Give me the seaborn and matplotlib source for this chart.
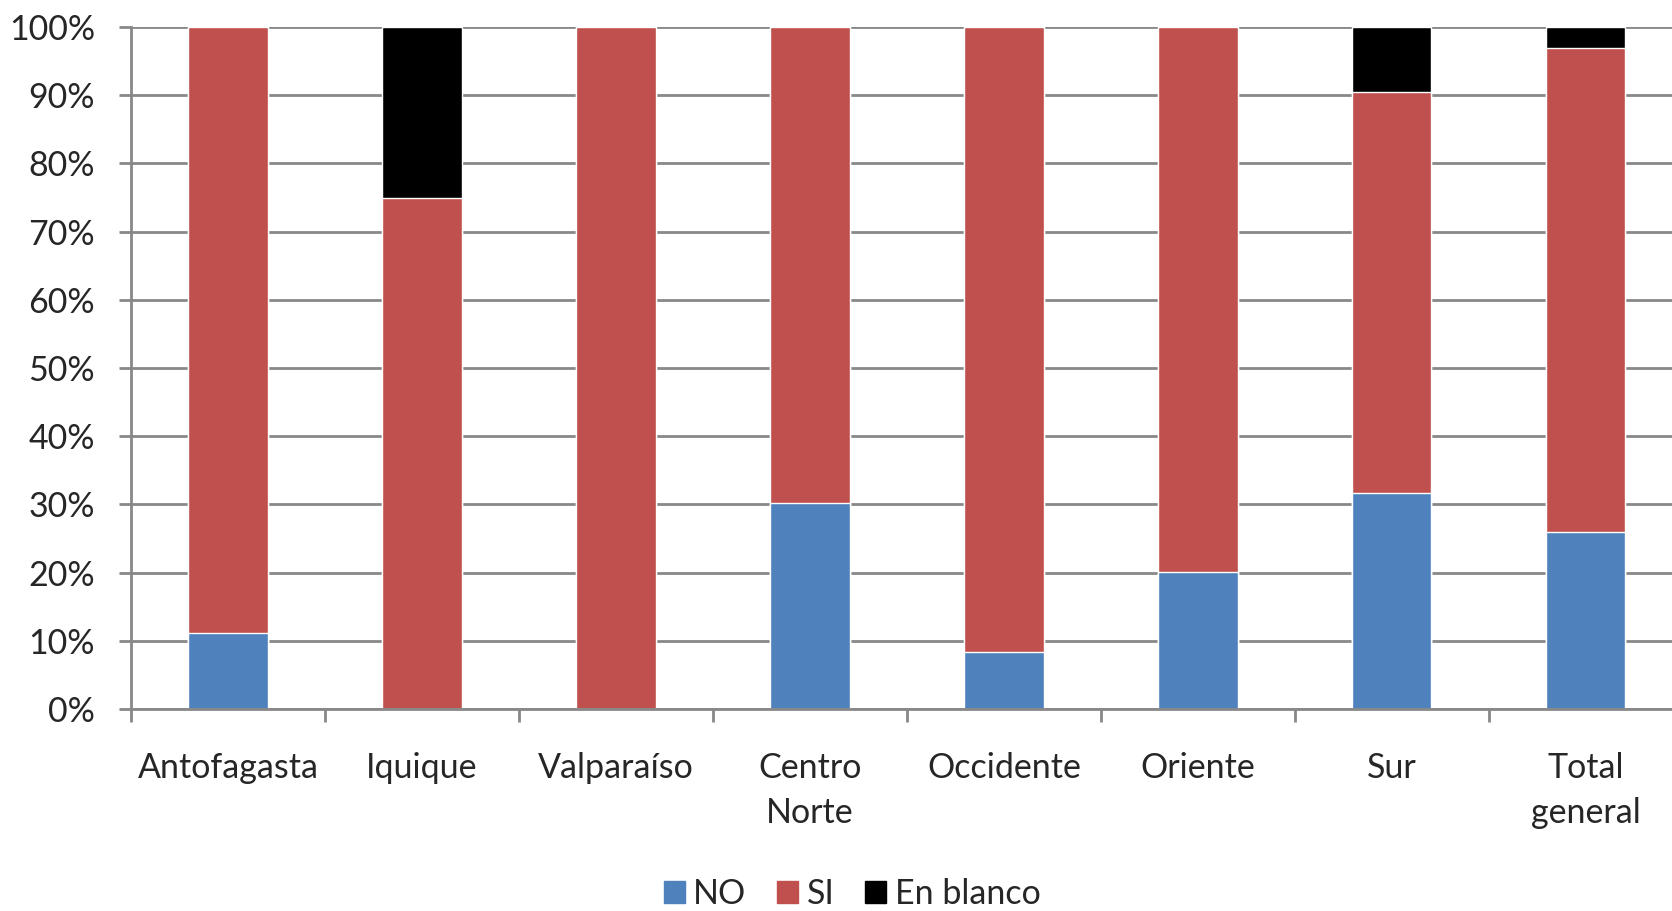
import numpy as np
import pandas as pd
import seaborn as sns
import matplotlib.pyplot as plt
from matplotlib.patches import Patch
from matplotlib.ticker import PercentFormatter

sns.set_style("white")
plt.rcParams['font.family'] = ['Lato', 'DejaVu Sans']

# Datos
regiones = ['Antofagasta', 'Iquique', 'Valparaíso', 'Centro\nNorte', 'Occidente',
            'Oriente', 'Sur', 'Total\ngeneral']
no_vals = [11.1, 0.0, 0.0, 30.2, 8.3, 20.1, 31.7, 26.0]
si_vals = [88.9, 75.0, 100.0, 69.8, 91.7, 79.9, 58.8, 70.9]
blanco_vals = [0.0, 25.0, 0.0, 0.0, 0.0, 0.0, 9.5, 3.1]

c_no, c_si, c_bl = '#4F81BD', '#C0504D', '#000000'

df = pd.DataFrame({'region': regiones, 'NO': no_vals, 'SI': si_vals, 'En blanco': blanco_vals})
df['cum_si'] = df['NO'] + df['SI']
df['cum_bl'] = df['cum_si'] + df['En blanco']

fig = plt.figure(figsize=(16.72, 9.11), dpi=100)
ax = fig.add_axes([131 / 1672, 1 - 709 / 911, 1 - 131 / 1672, (709 - 27) / 911])

# barras apiladas: se dibujan los acumulados de mayor a menor
sns.barplot(data=df, x='region', y='cum_bl', color=c_bl, width=0.41, ax=ax, saturation=1)
sns.barplot(data=df, x='region', y='cum_si', color=c_si, width=0.41, ax=ax, saturation=1)
sns.barplot(data=df, x='region', y='NO', color=c_no, width=0.41, ax=ax, saturation=1)

ax.set_yticks(np.arange(0, 101, 10))
ax.yaxis.set_major_formatter(PercentFormatter(decimals=0))
ax.set_xlabel('')
ax.set_ylabel('')

grid_c = '#888888'
ax.yaxis.grid(True, color=grid_c, linewidth=2)
ax.set_axisbelow(True)
for s in ['top', 'right']:
    ax.spines[s].set_visible(False)
for s in ['left', 'bottom']:
    ax.spines[s].set_color(grid_c)
    ax.spines[s].set_linewidth(2)

fs = 24.5
ax.set_xticks(np.arange(-0.5, 8, 1), minor=False)
ax.set_xticklabels([''] * 9)
ax.set_xticks(np.arange(8), minor=True)
ax.set_xticklabels(regiones, minor=True, fontsize=fs, linespacing=1.5)
ax.tick_params(axis='x', which='major', direction='out', length=9, width=2, color=grid_c, bottom=True)
ax.tick_params(axis='x', which='minor', length=0, pad=31)
ax.tick_params(axis='y', direction='out', length=9, width=2, color=grid_c, left=True,
               labelsize=fs, pad=17)

# el gráfico original queda recortado por la derecha
ax.set_xlim(-0.5, 7.445)
ax.set_ylim(0, 100)

handles = [Patch(color=c_no, label='NO'), Patch(color=c_si, label='SI'),
           Patch(color=c_bl, label='En blanco')]
fig.legend(handles=handles, loc='center', bbox_to_anchor=(852 / 1672, 1 - 894 / 911), ncol=3,
           frameon=False, fontsize=fs, handlelength=0.62, handleheight=0.62,
           handletextpad=0.25, columnspacing=0.9)

fig.savefig('out.png', dpi=100)
